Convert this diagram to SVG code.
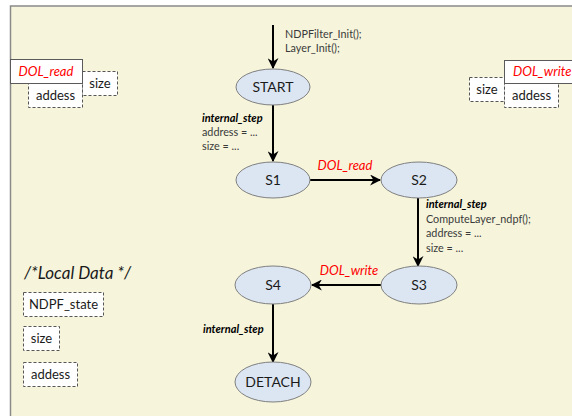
<svg xmlns="http://www.w3.org/2000/svg" width="572" height="416" viewBox="0 0 572 416">
  <style>
    text { font-family: Lato, "Open Sans", "Liberation Sans", sans-serif; fill: #1a1a1a; }
    .state { fill: #dce6f2; stroke: #7f7f7f; stroke-width: 1; }
    .slabel { font-size: 14px; text-anchor: middle; }
    .edge { stroke: #000; stroke-width: 2; fill: none; marker-end: url(#arrow); }
    .note { font-size: 10.8px; fill: #3a3a3a; }
    .step { font-size: 11px; font-weight: bold; font-style: italic; fill: #000; }
    .port { font-size: 13px; font-style: italic; fill: #ff0000; }
    .edgelabel { font-size: 13px; font-style: italic; fill: #ff0000; text-anchor: middle; }
    .portbox { fill: #fff; stroke: #5a5a5a; stroke-width: 1; }
    .var { fill: #fff; stroke: #555; stroke-width: 1; stroke-dasharray: 3 2; }
    .vtext { font-size: 13px; }
  </style>
  <defs>
    <marker id="arrow" viewBox="0 0 10 10" refX="9" refY="5" markerWidth="5.5" markerHeight="5.5" orient="auto" markerUnits="strokeWidth">
      <path d="M0,0 L10,5 L0,10 L3,5 z" fill="#000"/>
    </marker>
  </defs>

  <!-- process frame -->
  <rect x="0" y="0" width="572" height="416" fill="#fff"/>
  <rect x="10.5" y="6" width="570" height="420" fill="#f6f5dc" stroke="#8a8a8a" stroke-width="1.5"/>

  <!-- input port DOL_read with its variables -->
  <g id="port-dol-read">
    <rect class="var" x="82.5" y="71.5" width="35" height="24"/>
    <rect class="var" x="28.5" y="83.5" width="54" height="24"/>
    <rect class="portbox" x="10.5" y="59.5" width="72" height="24"/>
    <text class="port" x="46" y="76" text-anchor="middle">DOL_read</text>
    <text class="vtext" x="100" y="88" text-anchor="middle">size</text>
    <text class="vtext" x="55.5" y="100" text-anchor="middle">addess</text>
  </g>

  <!-- output port DOL_write with its variables -->
  <g id="port-dol-write">
    <rect class="var" x="469.5" y="77.5" width="35" height="24"/>
    <rect class="var" x="504.5" y="83.5" width="54" height="24"/>
    <rect class="portbox" x="504.5" y="60.5" width="80" height="23"/>
    <text class="port" x="513" y="76">DOL_write</text>
    <text class="vtext" x="487" y="94" text-anchor="middle">size</text>
    <text class="vtext" x="531.5" y="100" text-anchor="middle">addess</text>
  </g>

  <!-- local data -->
  <g id="local-data">
    <text x="24" y="279" font-size="17" font-style="italic">/*Local Data */</text>
    <rect class="var" x="23.5" y="292.5" width="80" height="24"/>
    <text class="vtext" x="63.5" y="309" text-anchor="middle">NDPF_state</text>
    <rect class="var" x="23.5" y="326.5" width="36" height="24"/>
    <text class="vtext" x="41.5" y="343" text-anchor="middle">size</text>
    <rect class="var" x="23.5" y="362.5" width="54" height="24"/>
    <text class="vtext" x="50.5" y="379" text-anchor="middle">addess</text>
  </g>

  <!-- transitions -->
  <g id="connectors">
    <line class="edge" x1="273" y1="25" x2="273" y2="68"/>
    <line class="edge" x1="273" y1="105" x2="273" y2="161"/>
    <line class="edge" x1="310" y1="180" x2="380" y2="180"/>
    <line class="edge" x1="418" y1="198" x2="418" y2="266"/>
    <line class="edge" x1="381" y1="285" x2="312" y2="285"/>
    <line class="edge" x1="273" y1="304" x2="273" y2="362"/>

    <text class="note" x="285" y="38">NDPFilter_Init();</text>
    <text class="note" x="285" y="52">Layer_Init();</text>

    <text class="step" x="202" y="122">internal_step</text>
    <text class="note" x="202" y="136">address = ...</text>
    <text class="note" x="202" y="150">size = ...</text>

    <text class="edgelabel" x="345" y="170">DOL_read</text>

    <text class="step" x="426" y="208">internal_step</text>
    <text class="note" x="426" y="223">ComputeLayer_ndpf();</text>
    <text class="note" x="426" y="237">address = ...</text>
    <text class="note" x="426" y="252">size = ...</text>

    <text class="edgelabel" x="349" y="275">DOL_write</text>

    <text class="step" x="203" y="333">internal_step</text>
  </g>

  <!-- states -->
  <g id="state-start">
    <ellipse class="state" cx="273" cy="87" rx="37" ry="18"/>
    <text class="slabel" x="273" y="92">START</text>
  </g>
  <g id="state-s1">
    <ellipse class="state" cx="273" cy="180" rx="37" ry="18"/>
    <text class="slabel" x="273" y="185">S1</text>
  </g>
  <g id="state-s2">
    <ellipse class="state" cx="419" cy="180" rx="38" ry="18"/>
    <text class="slabel" x="419" y="185">S2</text>
  </g>
  <g id="state-s3">
    <ellipse class="state" cx="419" cy="285" rx="38" ry="19"/>
    <text class="slabel" x="419" y="290">S3</text>
  </g>
  <g id="state-s4">
    <ellipse class="state" cx="273" cy="285" rx="38" ry="19"/>
    <text class="slabel" x="273" y="290">S4</text>
  </g>
  <g id="state-detach">
    <ellipse class="state" cx="273" cy="382" rx="38" ry="20"/>
    <text class="slabel" x="273" y="387">DETACH</text>
  </g>
</svg>
